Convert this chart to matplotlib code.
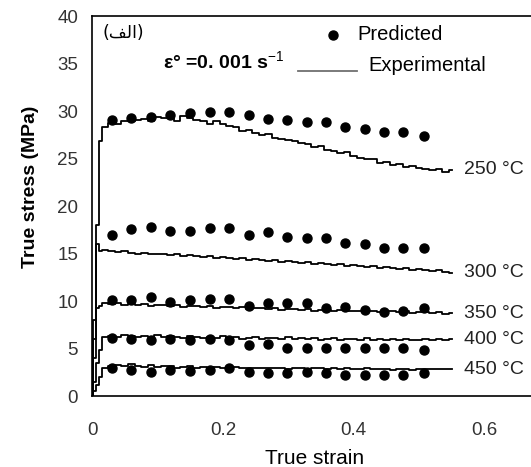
import matplotlib
matplotlib.use("Agg")
import matplotlib.pyplot as plt

plt.rcParams['font.family'] = ['Liberation Sans', 'DejaVu Sans']
plt.rcParams['mathtext.fontset'] = 'custom'
plt.rcParams['mathtext.rm'] = 'Liberation Sans'

# experimental curves
strain_exp = [0, 0.004, 0.008, 0.012, 0.02, 0.03, 0.04, 0.05, 0.06, 0.07, 0.08, 0.09, 0.10,
              0.11, 0.12, 0.13, 0.14, 0.15, 0.16, 0.17, 0.18, 0.19, 0.20, 0.21, 0.22, 0.23,
              0.24, 0.25, 0.26, 0.27, 0.28, 0.29, 0.30, 0.31, 0.32, 0.33, 0.34, 0.35, 0.36,
              0.37, 0.38, 0.39, 0.40, 0.41, 0.42, 0.43, 0.44, 0.45, 0.46, 0.47, 0.48, 0.49,
              0.50, 0.51, 0.52, 0.53, 0.54, 0.55]
exp_250 = [0, 4, 18, 26.8,
           28.3, 28.7, 28.6, 29.0, 28.9, 29.1, 29.2, 29.0, 29.4, 29.3, 29.6, 29.0,
           29.5, 29.3, 29.1, 28.9, 28.6, 29.0, 28.6, 28.4, 28.3, 27.9, 28.0, 27.7,
           27.5, 27.6, 27.2, 27.1, 26.9, 26.8, 26.6, 26.5, 26.2, 26.3, 25.9, 25.8,
           25.6, 25.7, 25.3, 25.1, 25.0, 24.9, 24.5, 24.6, 24.3, 24.4, 24.1, 24.2,
           24.0, 23.9, 23.8, 23.9, 23.6, 23.8]
exp_300 = [0, 8, 16.0, 15.3,
           15.4, 15.3, 15.2, 15.3, 15.1, 15.0, 15.1, 14.9, 15.0, 14.9, 14.8, 14.9,
           14.7, 14.8, 14.7, 14.6, 14.7, 14.5, 14.6, 14.5, 14.4, 14.5, 14.3, 14.4,
           14.3, 14.2, 14.3, 14.1, 14.2, 14.1, 14.0, 14.1, 13.9, 14.0, 13.9, 13.8,
           13.9, 13.7, 13.8, 13.7, 13.6, 13.7, 13.5, 13.6, 13.5, 13.4, 13.5, 13.3,
           13.4, 13.3, 13.2, 13.3, 13.1, 13.0]
exp_350 = [0, 6, 9.3, 9.5,
           9.8, 9.7, 9.8, 9.6, 9.7, 9.6, 9.7, 9.5, 9.6, 9.6, 9.5, 9.6,
           9.4, 9.5, 9.5, 9.4, 9.5, 9.3, 9.4, 9.4, 9.3, 9.4, 9.2, 9.3,
           9.3, 9.2, 9.3, 9.1, 9.2, 9.2, 9.1, 9.2, 9.0, 9.1, 9.1, 9.0,
           9.1, 8.9, 9.0, 9.0, 8.9, 9.0, 8.8, 8.9, 8.9, 8.8, 8.9, 8.7,
           8.8, 8.8, 8.7, 8.8, 8.6, 8.7]
exp_400 = [0, 1.5, 3.5, 4.8,
           6.2, 6.3, 6.2, 6.4, 6.3, 6.2, 6.3, 6.2, 6.4, 6.2, 6.3, 6.2,
           6.1, 6.3, 6.2, 6.1, 6.2, 6.1, 6.3, 6.1, 6.2, 6.0, 6.1, 6.2,
           6.0, 6.1, 6.1, 6.0, 6.2, 6.0, 6.1, 6.0, 6.1, 5.9, 6.0, 6.1,
           5.9, 6.0, 6.0, 5.9, 6.1, 5.9, 6.0, 5.9, 6.0, 5.9, 6.0, 5.9,
           5.9, 6.0, 5.9, 6.0, 5.9, 6.0]
exp_450 = [0, 0.5, 1.2, 2.0,
           2.9, 3.2, 3.3, 3.2, 3.4, 3.2, 3.1, 3.3, 3.1, 3.2, 3.2, 3.0,
           3.1, 3.2, 3.0, 3.1, 3.0, 3.1, 2.9, 3.0, 3.1, 2.9, 3.0, 2.9,
           3.0, 2.9, 3.0, 2.9, 2.8, 3.0, 2.9, 2.8, 2.9, 2.9, 2.8, 2.9,
           2.8, 2.9, 2.8, 2.8, 2.9, 2.8, 2.8, 2.8, 2.7, 2.8, 2.8, 2.7,
           2.8, 2.8, 2.8, 2.8, 2.8, 2.8]

# predicted points
strain_pred = [0.030, 0.060, 0.090, 0.119, 0.150, 0.180, 0.209, 0.240, 0.269,
               0.298, 0.328, 0.358, 0.387, 0.417, 0.447, 0.476, 0.507]
pred_250 = [29.05, 29.23, 29.33, 29.58, 29.76, 29.93, 29.93, 29.58, 29.16,
            29.05, 28.87, 28.87, 28.28, 28.07, 27.75, 27.75, 27.4]
pred_300 = [16.95, 17.55, 17.82, 17.4, 17.4, 17.65, 17.65, 16.95, 17.23,
            16.7, 16.6, 16.6, 16.07, 15.97, 15.61, 15.61, 15.61]
pred_350 = [10.1, 10.1, 10.39, 9.93, 10.1, 10.21, 10.21, 9.51, 9.76,
            9.82, 9.82, 9.23, 9.4, 9.05, 8.87, 8.98, 9.23]
pred_400 = [6.07, 6.0, 5.89, 6.0, 5.89, 6.0, 5.89, 5.37, 5.44,
            5.02, 5.02, 5.02, 5.02, 5.02, 5.02, 5.02, 4.84]
pred_450 = [2.92, 2.74, 2.56, 2.74, 2.66, 2.74, 2.92, 2.56, 2.39,
            2.39, 2.56, 2.39, 2.21, 2.21, 2.21, 2.21, 2.39]

temps = ["250 °C", "300 °C", "350 °C", "400 °C", "450 °C"]
exp_curves = [exp_250, exp_300, exp_350, exp_400, exp_450]
pred_curves = [pred_250, pred_300, pred_350, pred_400, pred_450]

fig = plt.figure(figsize=(5.31, 4.67), dpi=100)
ax = fig.add_axes([0.1733, 0.152, 0.8625, 0.8137])

for t, e, p in zip(temps, exp_curves, pred_curves):
    ax.plot(strain_exp, e, color='black', lw=1.3, drawstyle='steps-mid')
    ax.plot(strain_pred, p, 'o', color='black', ms=6.5)
    ax.text(0.569, e[-1], t, fontsize=14, va='center', ha='left', color='#222222')

ax.set_xlim(0, 0.7)
ax.set_ylim(0, 40)
ax.set_xticks([0, 0.2, 0.4, 0.6])
ax.set_xticklabels(["0", "0.2", "0.4", "0.6"])
ax.set_yticks(range(0, 41, 5))
ax.tick_params(length=0, labelsize=13.5, labelcolor='#333333')
ax.tick_params(axis='x', pad=19)
ax.tick_params(axis='y', pad=10)
for s in ax.spines.values():
    s.set_linewidth(1.2)

ax.set_xlabel("True strain", fontsize=15)
ax.xaxis.set_label_coords(0.485, -0.14)
ax.set_ylabel("True stress (MPa)", fontsize=14, fontweight='bold')
ax.yaxis.set_label_coords(-0.115, 0.55)

# legend and notes
ax.plot([0.526], [0.95], 'o', color='black', ms=6.5, transform=ax.transAxes, clip_on=False)
ax.text(0.579, 0.952, "Predicted", transform=ax.transAxes, fontsize=14.5, va='center')
ax.plot([0.45, 0.579], [0.855, 0.855], color='#707070', lw=1.3, transform=ax.transAxes)
ax.text(0.603, 0.87, "Experimental", transform=ax.transAxes, fontsize=14.5, va='center')
ax.text(0.155, 0.879, "ε° =0. 001 s$^{-1}$", transform=ax.transAxes, fontsize=14,
        va='center', fontweight='bold')
ax.text(0.022, 0.955, "(\ufed2\ufedf\ufe8d)", transform=ax.transAxes, fontsize=12.5,
        va='center', family=['DejaVu Sans'])

fig.savefig("out.png", dpi=100)
